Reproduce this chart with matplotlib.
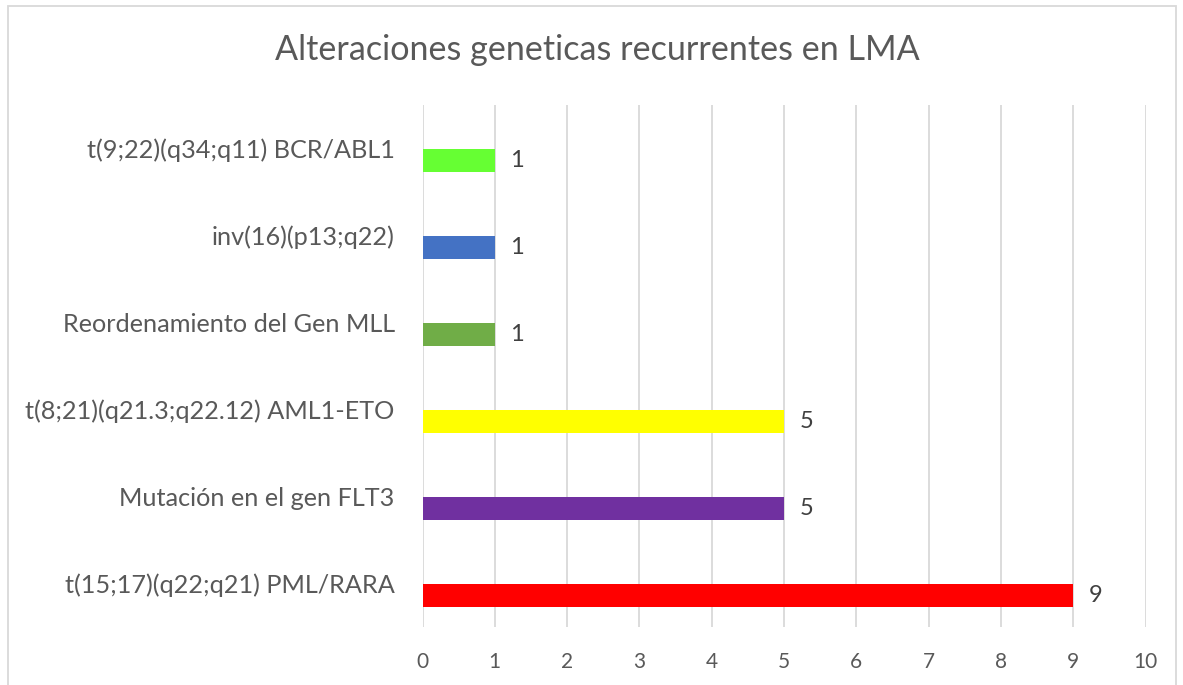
import matplotlib
matplotlib.use("Agg")
import matplotlib.pyplot as plt
from matplotlib.patches import Rectangle

categories = [
    "t(15;17)(q22;q21) PML/RARA",
    "Mutación en el gen FLT3",
    "t(8;21)(q21.3;q22.12) AML1-ETO",
    "Reordenamiento del Gen MLL",
    "inv(16)(p13;q22)",
    "t(9;22)(q34;q11) BCR/ABL1",
]
values = [9, 5, 5, 1, 1, 1]
colors = ["#FF0000", "#7030A0", "#FFFF00", "#70AD47", "#4472C4", "#66FF33"]
xticks = list(range(0, 11))
title = "Alteraciones geneticas recurrentes en LMA"

plt.rcParams['font.family'] = ['Lato', 'DejaVu Sans']

W, H = 1183, 685
fig = plt.figure(figsize=(W / 100, H / 100), dpi=100)
ax = fig.add_axes([422.5 / W, 1 - 627 / H, (1145.7 - 422.5) / W, (627 - 105) / H])

pos = list(range(len(categories)))
offset = -0.14
ax.barh([p + offset for p in pos], values, height=0.265, color=colors, zorder=3)
for p, v in zip(pos, values):
    ax.annotate(str(v), (v, p + offset), xytext=(11, 0), textcoords="offset points",
                ha="left", va="center", fontsize=17, color="#404040")

ax.set_xlim(0, 10)
ax.set_ylim(-0.5, len(categories) - 0.5)
ax.set_xticks(xticks)
ax.set_yticks(pos)
ax.set_yticklabels(categories)
ax.tick_params(axis="x", length=0, pad=18, labelsize=15, labelcolor="#595959")
ax.tick_params(axis="y", length=0, pad=20, labelsize=18.2, labelcolor="#595959")
ax.grid(axis="x", color="#D9D9D9", linewidth=1.3, zorder=0)
for s in ax.spines.values():
    s.set_visible(False)

fig.text(597 / W, 1 - 50 / H, title, ha="center", va="center", fontsize=24.6, color="#595959")

fig.patches.append(Rectangle((8 / W, -0.05), (1176 - 8) / W, 1 - 6 / H + 0.05,
                             transform=fig.transFigure, fill=False,
                             edgecolor="#D9D9D9", linewidth=1.3))

fig.savefig("out.png", dpi=100)
